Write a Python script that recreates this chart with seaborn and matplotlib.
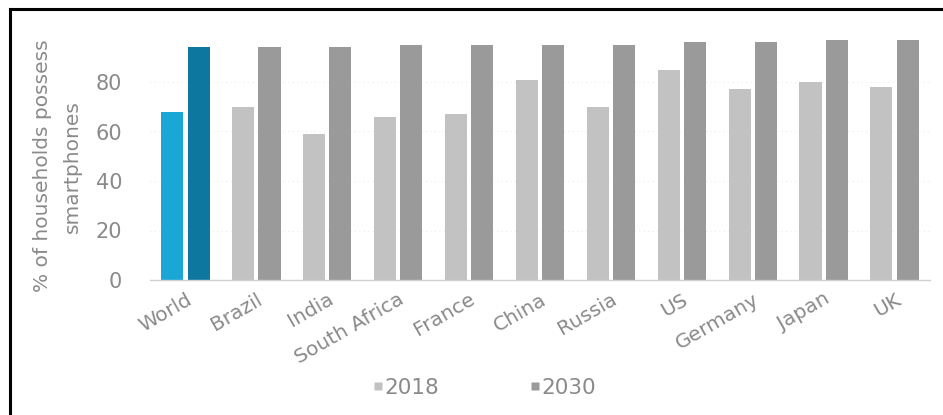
import matplotlib
matplotlib.use("Agg")
import matplotlib.pyplot as plt
from matplotlib.lines import Line2D
import numpy as np
import pandas as pd
import seaborn as sns

# Smartphone ownership by country, 2018 vs 2030 projection
countries = ["World", "Brazil", "India", "South Africa", "France", "China",
             "Russia", "US", "Germany", "Japan", "UK"]
share_2018 = [68, 70, 59, 66, 67, 81, 70, 85, 77, 80, 78]
share_2030 = [94, 94, 94, 95, 95, 95, 95, 96, 96, 97, 97]
years = ["2018", "2030"]
y_ticks = [0, 20, 40, 60, 80]

df = pd.DataFrame({
    "country": countries * 2,
    "year": [years[0]] * len(countries) + [years[1]] * len(countries),
    "share": share_2018 + share_2030,
})

sns.set_theme(style="white")
plt.rcParams["font.family"] = ["DejaVu Sans"]

grey_light = "#c2c2c2"
grey_dark = "#9a9a9a"
world_light = "#1aa7d6"
world_dark = "#0d77a0"
text_grey = "#8a8a8a"

fig = plt.figure(figsize=(9.43, 4.15), dpi=100)
ax = fig.add_axes([150 / 943, 1 - 280 / 415, 780 / 943, 247.5 / 415])

sns.barplot(data=df, x="country", y="share", hue="year", order=countries,
            hue_order=years, palette={years[0]: grey_light, years[1]: grey_dark},
            width=0.74, gap=0.16, saturation=1, legend=False, ax=ax,
            edgecolor="none", linewidth=0)

# World bars stand out in blue
ax.containers[0][0].set_facecolor(world_light)
ax.containers[1][0].set_facecolor(world_dark)

ax.set_xlim(-0.5, len(countries) - 0.5)
ax.set_ylim(0, 100)
ax.set_yticks(y_ticks)
ax.set_yticklabels([str(v) for v in y_ticks])
ax.set_xlabel("")
ax.set_ylabel("% of households possess\nsmartphones", color=text_grey,
              fontsize=14.5, linespacing=1.75)
ax.yaxis.set_label_coords(-0.087, 0.46)

for s in ["top", "right", "left"]:
    ax.spines[s].set_visible(False)
ax.spines["bottom"].set_color("#d0d0d0")
ax.spines["bottom"].set_linewidth(1.0)

ax.tick_params(axis="y", length=0, pad=20, labelsize=15, labelcolor=text_grey)
ax.tick_params(axis="x", length=0, pad=7, labelsize=14.5, labelcolor=text_grey)
ax.set_xticks(np.arange(len(countries)))
ax.set_xticklabels(countries, rotation=30, ha="right", rotation_mode="anchor")

# small separators between category groups
ax.set_xticks(np.arange(len(countries) + 1) - 0.5, minor=True)
ax.tick_params(axis="x", which="minor", length=4, width=1, color="#cfcfcf")

# faint dotted gridlines
ax.yaxis.grid(True, linestyle=(0, (1, 3)), color="#ececec", linewidth=0.8)
ax.set_axisbelow(True)

handles = [
    Line2D([], [], marker="s", linestyle="none", markersize=6,
           markerfacecolor=grey_light, markeredgecolor="none", label=years[0]),
    Line2D([], [], marker="s", linestyle="none", markersize=6,
           markerfacecolor=grey_dark, markeredgecolor="none", label=years[1]),
]
fig.legend(handles=handles, loc="center", bbox_to_anchor=(484 / 943, 1 - 388 / 415),
           ncol=2, frameon=False, fontsize=15.5, labelcolor=text_grey,
           handlelength=0.5, handletextpad=0.05, columnspacing=4.2)

# frame lines on the top and left edges
fig.add_artist(Line2D([9.5 / 943, 9.5 / 943], [0, 1 - 9.5 / 415],
                      transform=fig.transFigure, color="black", linewidth=2.2,
                      solid_capstyle="projecting"))
fig.add_artist(Line2D([9.5 / 943, 1], [1 - 9.5 / 415, 1 - 9.5 / 415],
                      transform=fig.transFigure, color="black", linewidth=2.2,
                      solid_capstyle="projecting"))

fig.savefig("out.png", dpi=100, facecolor="white")
